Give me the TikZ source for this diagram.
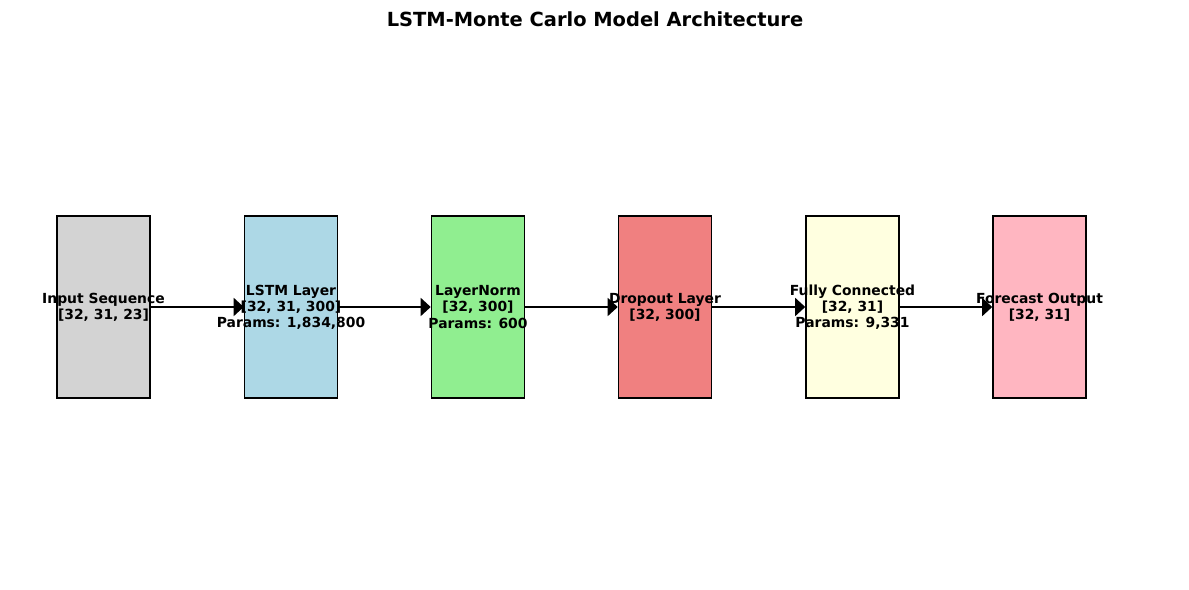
\documentclass[tikz,border=0pt]{standalone}
\usepackage{fontspec}
\setmainfont{DejaVu Sans}
\usetikzlibrary{arrows.meta}

\begin{document}
\begin{tikzpicture}[x=0.72pt, y=0.72pt, >={Triangle[length=7.2pt, width=13pt]}, line width=1.1pt,
  every node/.style={font=\bfseries\fontsize{10}{11.6}\selectfont, align=center},
  layer/.style={draw=black, minimum width=67pt, minimum height=131pt, inner sep=0pt}]
\useasboundingbox (0,0) rectangle (1189,590);
\def\yc{283}
% boxes
\node[layer, fill={rgb,255:red,211;green,211;blue,211}] (inbox) at (103.5,\yc) {};
\node[layer, fill={rgb,255:red,173;green,216;blue,230}] (lstmbox) at (291,\yc) {};
\node[layer, fill={rgb,255:red,144;green,238;blue,144}] (normbox) at (478,\yc) {};
\node[layer, fill={rgb,255:red,240;green,128;blue,128}] (dropbox) at (665,\yc) {};
\node[layer, fill={rgb,255:red,255;green,255;blue,224}] (fcbox) at (852.5,\yc) {};
\node[layer, fill={rgb,255:red,255;green,182;blue,193}] (outbox) at (1039.5,\yc) {};
% connectors
\draw[->] (inbox.east) -- (lstmbox.west);
\draw[->] (lstmbox.east) -- (normbox.west);
\draw[->] (normbox.east) -- (dropbox.west);
\draw[->] (dropbox.east) -- (fcbox.west);
\draw[->] (fcbox.east) -- (outbox.west);
% labels
\node (inlab) at (inbox.center) {Input Sequence\\{}[32, 31, 23]};
\node (lstmlab) at (lstmbox.center) {LSTM Layer\\{}[32, 31, 300]\\Params: 1,834,800};
\node (normlab) at (normbox.center) {LayerNorm\\{}[32, 300]\\Params: 600};
\node (droplab) at (dropbox.center) {Dropout Layer\\{}[32, 300]};
\node (fclab) at (fcbox.center) {Fully Connected\\{}[32, 31]\\Params: 9,331};
\node (outlab) at (outbox.center) {Forecast Output\\{}[32, 31]};
\node[font=\bfseries\fontsize{14}{16}\selectfont] (title) at (595,571) {LSTM-Monte Carlo Model Architecture};
\end{tikzpicture}
\end{document}
